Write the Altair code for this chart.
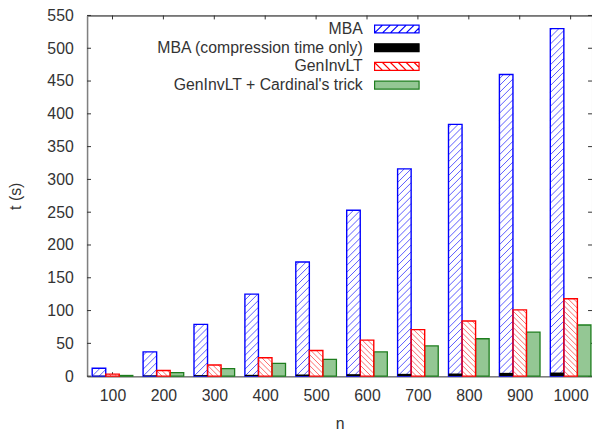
import math
import altair as alt
import pandas as pd

# ---------------- data ----------------
n_labels = ["100", "200", "300", "400", "500", "600", "700", "800", "900", "1000"]
series_names = ["MBA", "MBA (compression time only)", "GenInvLT", "GenInvLT + Cardinal's trick"]
mba = [12, 37, 79, 125, 174, 253, 316, 384, 460, 530]
mba_comp = [0.5, 1, 1.5, 2, 2.5, 3, 3.5, 4, 5, 5.5]
geninv = [3, 8.5, 17, 28, 39, 55, 71, 84, 101, 118]
cardinal = [1, 5.5, 11.5, 19.5, 25.5, 37, 46, 57, 67, 78]
y_ticks = [0, 50, 100, 150, 200, 250, 300, 350, 400, 450, 500, 550]

# ---------------- layout / style ----------------
W, H = 511, 365
X_DOM = [-0.5, 9.42]
Y_DOM = [0, 550]
kx = W / (X_DOM[1] - X_DOM[0])   # px per group unit
ky = H / (Y_DOM[1] - Y_DOM[0])   # px per second
HALF = 0.133                     # half of a bar slot, in group units
FONT = "Liberation Sans"
TXT = "#333333"

BLUE, BLUE_H = "#0000ff", "#5a5aff"
RED, RED_H = "#ff0000", "#ff6a6a"
GREEN, GREEN_F = "#1d7d1d", "#94c794"

slot = {series_names[0]: -2, series_names[1]: -2, series_names[2]: 0, series_names[3]: 2}
values = {series_names[0]: mba, series_names[1]: mba_comp,
          series_names[2]: geninv, series_names[3]: cardinal}

rows = []
for s in series_names:
    for i, v in enumerate(values[s]):
        c = i + slot[s] * HALF
        rows.append({"series": s, "n": n_labels[i], "x0": c - HALF, "x1": c + HALF, "val": v})
bars = pd.DataFrame(rows)


def clip_segments(w, h, s, direction):
    """45-degree hatch segments inside a w x h pixel box (y up)."""
    out = []
    if direction == "/":
        k0, k1 = math.ceil(-w / s), math.floor(h / s)
        for k in range(k0, k1 + 1):
            c = k * s
            xs, xe = max(0.0, -c), min(w, h - c)
            if xe - xs > 0.4:
                out.append((xs, xs + c, xe, xe + c))
    else:
        k0, k1 = 1, math.floor((h + w) / s)
        for k in range(k0, k1 + 1):
            c = k * s
            xs, xe = max(0.0, c - h), min(w, c)
            if xe - xs > 0.4:
                out.append((xs, c - xs, xe, c - xe))
    return out


def hatch_rows(series, spacing, direction):
    res = []
    sub = bars[bars.series == series]
    for _, r in sub.iterrows():
        w = (r.x1 - r.x0) * kx
        h = r.val * ky
        for (a, b, c, d) in clip_segments(w, h, spacing, direction):
            res.append({"hx0": r.x0 + a / kx, "hy0": b / ky, "hx1": r.x0 + c / kx, "hy1": d / ky})
    return pd.DataFrame(res)


hatch_blue = hatch_rows(series_names[0], 7.0, "/")
hatch_red = hatch_rows(series_names[2], 5.5, "\\")

xs = alt.Scale(domain=X_DOM, nice=False, zero=False)
ys = alt.Scale(domain=Y_DOM, nice=False, zero=True)
label_expr = "[" + ",".join("'" + l + "'" for l in n_labels) + "][datum.value]"
xaxis = alt.Axis(values=list(range(len(n_labels))), labelExpr=label_expr, title="n",
                 grid=False, ticks=False, tickSize=0, labelFlush=False, labelPadding=12,
                 titlePadding=12, domainColor="#808080", domainWidth=1.5)
yaxis = alt.Axis(values=y_ticks, title="t (s)", grid=False, ticks=False, tickSize=0,
                 labelFlush=False, labelPadding=14, titlePadding=24,
                 domainColor="#808080", domainWidth=1.5)

X = lambda f: alt.X(f, type="quantitative", scale=xs, axis=xaxis)
Y = lambda f: alt.Y(f, type="quantitative", scale=ys, axis=yaxis)

# tick marks (inward, on all four sides)
gdf = pd.DataFrame({"g": list(range(len(n_labels)))})
ydf = pd.DataFrame({"v": y_ticks})
tick_c = "#303030"
t_bottom = alt.Chart(gdf).mark_rule(color=tick_c).encode(x=X("g"), y=alt.value(H), y2=alt.value(H - 4))
t_top = alt.Chart(gdf).mark_rule(color=tick_c).encode(x=X("g"), y=alt.value(0), y2=alt.value(4))
t_left = alt.Chart(ydf).mark_rule(color=tick_c).encode(y=Y("v"), x=alt.value(0), x2=alt.value(4))
t_right = alt.Chart(ydf).mark_rule(color=tick_c).encode(y=Y("v"), x=alt.value(W - 4), x2=alt.value(W))

def bar_layer(series, **mark):
    return alt.Chart(bars[bars.series == series]).mark_rect(**mark).encode(
        x=X("x0"), x2="x1", y=Y("val"), y2=alt.datum(0))

fill_mba = bar_layer(series_names[0], fill="white")
fill_gen = bar_layer(series_names[2], fill="white")
fill_car = bar_layer(series_names[3], fill=GREEN_F, stroke=GREEN, strokeWidth=1.3)

h_blue = alt.Chart(hatch_blue).mark_rule(color=BLUE_H, strokeWidth=1).encode(
    x=X("hx0"), x2="hx1", y=Y("hy0"), y2="hy1")
h_red = alt.Chart(hatch_red).mark_rule(color=RED_H, strokeWidth=1).encode(
    x=X("hx0"), x2="hx1", y=Y("hy0"), y2="hy1")

out_mba = bar_layer(series_names[0], fillOpacity=0, stroke=BLUE, strokeWidth=1.4)
out_gen = bar_layer(series_names[2], fillOpacity=0, stroke=RED, strokeWidth=1.4)
black = bar_layer(series_names[1], fill="black")

main = alt.layer(t_bottom, t_top, t_left, t_right, fill_mba, fill_gen, fill_car,
                 h_blue, h_red, out_mba, out_gen, black)

# ---------------- legend (labels left, swatches right) ----------------
SW, SH = 45.0, 8.0
R = SW / 2
hh = (SH / 2) / R

def swatch_path(direction, spacing):
    p = f"M-1,{-hh:.4f}L1,{-hh:.4f}L1,{hh:.4f}L-1,{hh:.4f}Z"
    if direction:
        for (a, b, c, d) in clip_segments(SW, SH, spacing, direction):
            p += f"M{a / R - 1:.4f},{hh - b / R:.4f}L{c / R - 1:.4f},{hh - d / R:.4f}"
    return p

shapes = [swatch_path("/", 8), swatch_path(None, 0), swatch_path("\\", 8), swatch_path(None, 0)]
ldf = pd.DataFrame({"series": series_names})
ly = alt.Scale(type="point", domain=series_names, range=[13.7, 70.5], padding=0)

leg_sym = alt.Chart(ldf).mark_point(filled=True, opacity=1, strokeWidth=1.2, size=SW * SW).encode(
    x=alt.value(313.5),
    y=alt.Y("series:N", scale=ly, axis=None),
    shape=alt.Shape("series:N", scale=alt.Scale(domain=series_names, range=shapes), legend=None),
    fill=alt.Fill("series:N", scale=alt.Scale(domain=series_names, range=["white", "black", "white", GREEN_F]), legend=None),
    stroke=alt.Stroke("series:N", scale=alt.Scale(domain=series_names, range=[BLUE, "black", RED, GREEN]), legend=None),
)
leg_txt = alt.Chart(ldf).mark_text(align="right", baseline="middle", fontSize=16, font=FONT, color=TXT).encode(
    x=alt.value(279),
    y=alt.Y("series:N", scale=ly, axis=None),
    text="series:N",
)
legend = alt.layer(leg_sym, leg_txt)

chart = alt.layer(main, legend).resolve_scale(
    y="independent", shape="independent", fill="independent", stroke="independent"
).properties(
    width=W, height=H,
    autosize=alt.AutoSizeParams(type="none"),
    padding={"left": 80, "top": 5, "right": 0, "bottom": 56},
).configure_view(
    stroke="black", strokeWidth=1
).configure_axis(
    labelFont=FONT, titleFont=FONT, labelFontSize=16, titleFontSize=16,
    labelColor=TXT, titleColor=TXT, titleFontWeight="normal"
)

chart.save("out.html", embed_options={"renderer": "svg", "actions": False})
